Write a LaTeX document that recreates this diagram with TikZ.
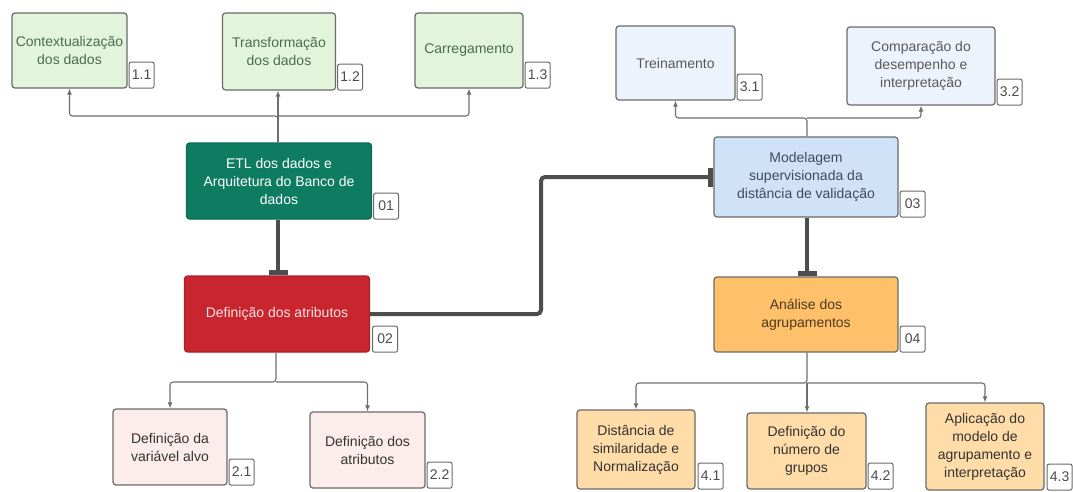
\documentclass[tikz,border=0pt]{standalone}
\usepackage{fontspec}
\setmainfont{Liberation Sans}
\usepackage{xcolor}
\usepackage{tikz}
\usetikzlibrary{arrows.meta,positioning,calc}
\definecolor{edge}{HTML}{6A6A6A}
\definecolor{greenfill}{HTML}{E2F5DC}
\definecolor{greentext}{HTML}{4C6B4C}
\definecolor{etlfill}{HTML}{0E7C61}
\definecolor{redfill}{HTML}{C9252F}
\definecolor{redtext}{HTML}{FBE3E4}
\definecolor{pinkfill}{HTML}{FDECEC}
\definecolor{paleblue}{HTML}{EDF3FC}
\definecolor{bluefill}{HTML}{CFE2F8}
\definecolor{bluetext}{HTML}{3B4A63}
\definecolor{orangefill}{HTML}{FFC06A}
\definecolor{peachfill}{HTML}{FFDCA8}
\definecolor{linkgray}{HTML}{6E6E6E}
\definecolor{heavygray}{HTML}{4D4D4D}

\begin{document}
\begin{tikzpicture}[x=1pt,y=-1pt,
          every node/.style={font=\fontsize{14}{18}\selectfont},
          box/.style={draw=edge,rounded corners=3pt,line width=1.2pt,align=center,inner sep=2pt},
          greenbox/.style={box,fill=greenfill,text=greentext},
          etlbox/.style={box,draw=etlfill!85!black,fill=etlfill,text=white},
          redbox/.style={box,draw=redfill!85!black,fill=redfill,text=redtext},
          pinkbox/.style={box,fill=pinkfill,text=black!80},
          paleblue box/.style={box,fill=paleblue,text=black!65},
          bluebox/.style={box,fill=bluefill,text=bluetext},
          orangebox/.style={box,fill=orangefill,text=black!70!orangefill},
          peachbox/.style={box,fill=peachfill,text=black!80},
          tagbox/.style={draw=edge,fill=white,rounded corners=2pt,line width=1pt,
                         minimum width=25pt,minimum height=26pt,inner sep=1pt,
                         text=black!70,anchor=south west},
          link/.style={-{Latex[length=6pt,width=5pt]},draw=linkgray,line width=1.1pt,rounded corners=3pt},
          heavy/.style={-{Rectangle[length=5pt,width=19pt]},draw=heavygray,line width=4pt,rounded corners=4pt}
      ]
        \useasboundingbox (0,0) rectangle (1073,491);

        % step 1 and its parts
        \node[etlbox,minimum width=185pt,minimum height=76pt] (b01) at (279,181)
          {ETL dos dados e\\Arquitetura do Banco de\\dados};
        \node[greenbox,minimum width=115pt,minimum height=75pt] (b11) at (69.5,50.5)
          {Contextualização\\dos dados};
        \node[greenbox,minimum width=113pt,minimum height=77pt] (b12) at (279,51.5)
          {Transformação\\dos dados};
        \node[greenbox,minimum width=108pt,minimum height=75pt] (b13) at (469,50.5)
          {Carregamento};

        % step 2 and its parts
        \node[redbox,minimum width=185pt,minimum height=76pt] (b02) at (277,314)
          {Definição dos atributos};
        \node[pinkbox,minimum width=114pt,minimum height=76pt] (b21) at (170,447)
          {Definição da\\variável alvo};
        \node[pinkbox,minimum width=115pt,minimum height=76pt] (b22) at (367.5,450)
          {Definição dos\\atributos};

        % step 3 and its parts
        \node[bluebox,minimum width=184pt,minimum height=80pt] (b03) at (806,177)
          {Modelagem\\supervisionada da\\distância de validação};
        \node[paleblue box,minimum width=119pt,minimum height=74pt] (b31) at (675.5,63)
          {Treinamento};
        \node[paleblue box,minimum width=148pt,minimum height=78pt] (b32) at (921,66)
          {Comparação do\\desempenho e\\interpretação};

        % step 4 and its parts
        \node[orangebox,minimum width=184pt,minimum height=75pt] (b04) at (806,314.5)
          {Análise dos\\agrupamentos};
        \node[peachbox,minimum width=118pt,minimum height=79pt] (b41) at (636,449.5)
          {Distância de\\similaridade e\\Normalização};
        \node[peachbox,minimum width=119pt,minimum height=76pt] (b42) at (806.5,451)
          {Definição do\\número de\\grupos};
        \node[peachbox,minimum width=118pt,minimum height=87pt] (b43) at (985,446.5)
          {Aplicação do\\modelo de\\agrupamento e\\interpretação};

        % number tags
        \node[tagbox] (t01) at ([xshift=1pt]b01.south east) {01};
        \node[tagbox] (t11) at ([xshift=1pt]b11.south east) {1.1};
        \node[tagbox] (t12) at ([xshift=1pt]b12.south east) {1.2};
        \node[tagbox] (t13) at ([xshift=1pt]b13.south east) {1.3};
        \node[tagbox] (t02) at ([xshift=2pt]b02.south east) {02};
        \node[tagbox] (t21) at ([xshift=1pt]b21.south east) {2.1};
        \node[tagbox] (t22) at ([xshift=1pt]b22.south east) {2.2};
        \node[tagbox] (t03) at ([xshift=1pt]b03.south east) {03};
        \node[tagbox] (t31) at ([xshift=1pt]b31.south east) {3.1};
        \node[tagbox] (t32) at ([xshift=1pt]b32.south east) {3.2};
        \node[tagbox] (t04) at ([xshift=1pt]b04.south east) {04};
        \node[tagbox] (t41) at ([xshift=2pt]b41.south east) {4.1};
        \node[tagbox] (t42) at ([xshift=1pt]b42.south east) {4.2};
        \node[tagbox] (t43) at ([xshift=2pt]b43.south east) {4.3};

        % branch points
        \coordinate (j1) at (278,116);
        \coordinate (j2) at (276,382);
        \coordinate (j3) at (807,118);
        \coordinate (j4) at (807,383);
        \coordinate (k) at (541,0);

        \draw[link] (b01.north -| j1) -- (j1) -| (b11);
        \draw[link] (j1) -| (b13);
        \draw[link] (b01.north -| j1) -- (j1 |- b12.south);
        \draw[link] (b02.south -| j2) -- (j2) -| (b21);
        \draw[link] (j2) -| (b22);
        \draw[link] (b03.north -| j3) -- (j3) -| (b31);
        \draw[link] (j3) -| (b32);
        \draw[link] (b04.south -| j4) -- (j4) -| (b41);
        \draw[link] (j4) -- (j4 |- b42.north);
        \draw[link] (j4) -| (b43);

        \draw[heavy] (b01.south -| j1) -- (b02.north -| j1);
        \draw[heavy] (b02.east) -- (b02.east -| k) -- (k |- b03.west) -- (b03.west);
        \draw[heavy] (b03.south -| j3) -- (b04.north -| j3);
      \end{tikzpicture}
\end{document}
